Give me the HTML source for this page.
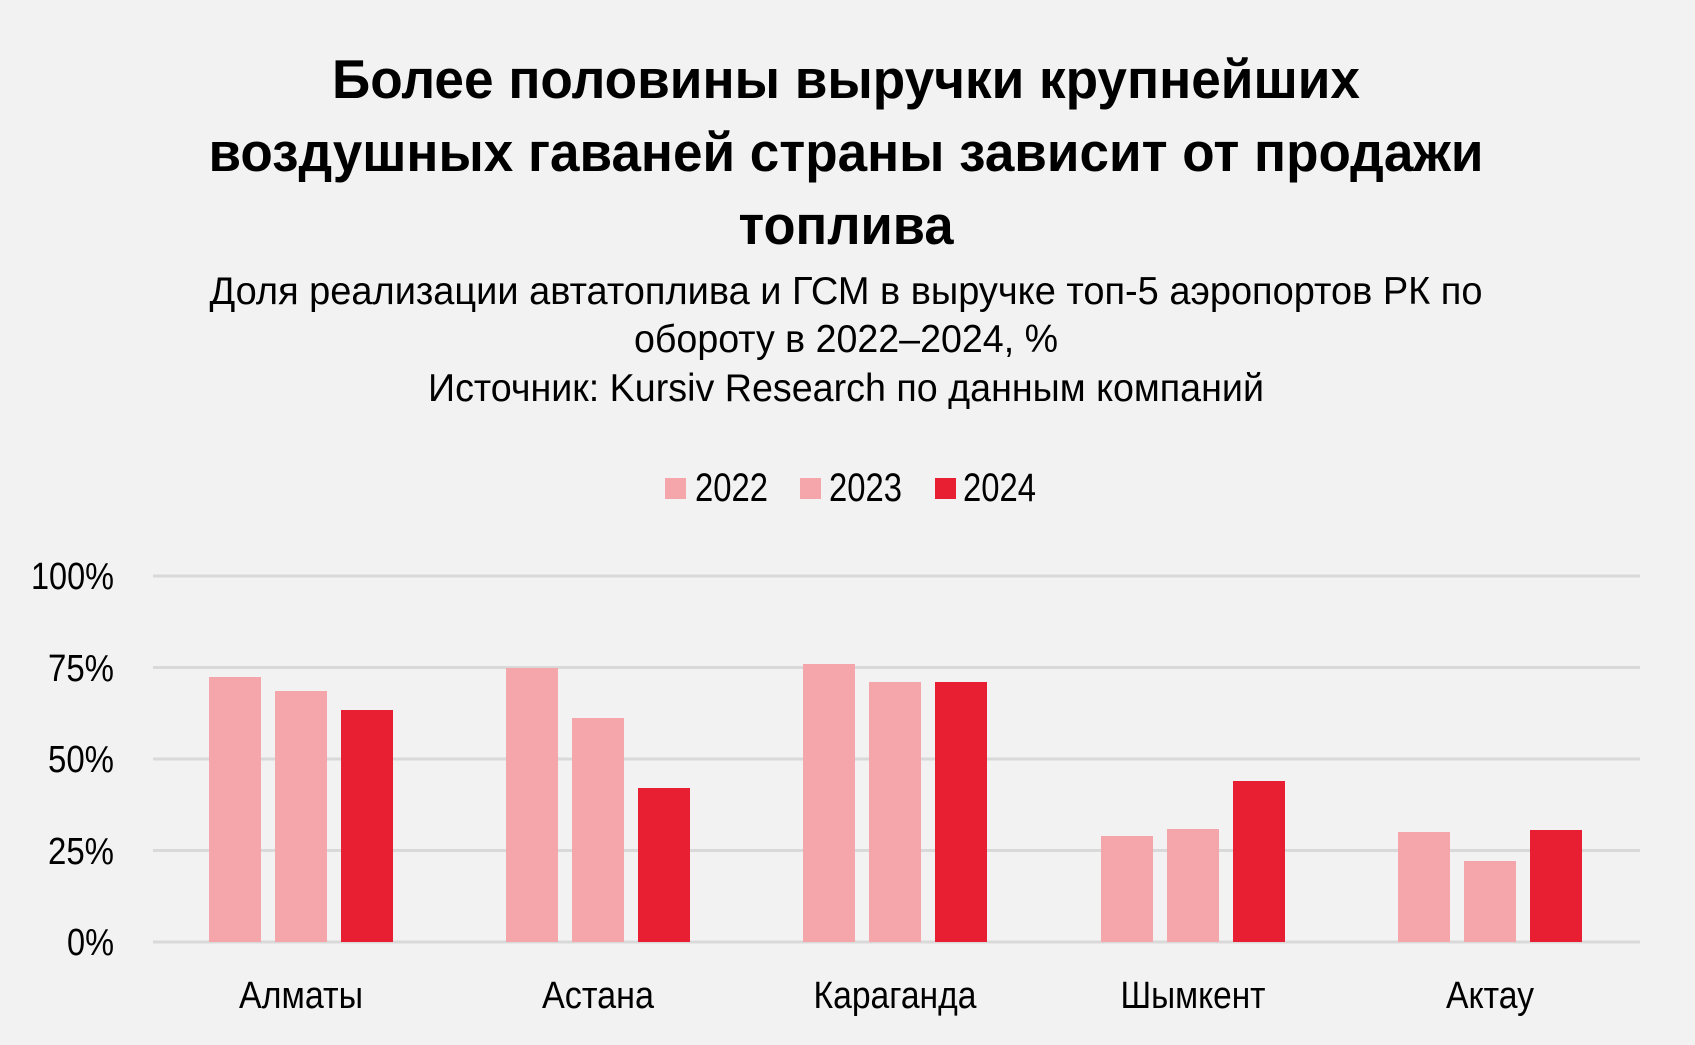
<!DOCTYPE html>
<html><head><meta charset="utf-8"><style>
html,body{margin:0;padding:0;background:#fff;}
svg{display:block;}
text{font-family:"Liberation Sans Narrow","Liberation Sans",sans-serif;fill:#000;}
</style></head><body>
<svg width="1695" height="1045" viewBox="0 0 1695 1045" xmlns="http://www.w3.org/2000/svg">
<rect x="0" y="0" width="1695" height="1045" fill="#f2f2f2"/>
<g font-weight="bold" font-size="55" text-anchor="middle">
<text x="846" y="98" textLength="1028" lengthAdjust="spacingAndGlyphs">Более половины выручки крупнейших</text>
<text x="846" y="171" textLength="1275" lengthAdjust="spacingAndGlyphs">воздушных гаваней страны зависит от продажи</text>
<text x="846" y="244" textLength="215" lengthAdjust="spacingAndGlyphs">топлива</text>
</g>
<g font-size="39" text-anchor="middle">
<text x="846" y="304" textLength="1273" lengthAdjust="spacingAndGlyphs">Доля реализации автатоплива и ГСМ в выручке топ-5 аэропортов РК по</text>
<text x="846" y="352" textLength="424" lengthAdjust="spacingAndGlyphs">обороту в 2022–2024, %</text>
<text x="846" y="401" textLength="836" lengthAdjust="spacingAndGlyphs">Источник: Kursiv Research по данным компаний</text>
</g>
<g font-size="40">
<rect x="665" y="478" width="21" height="21" fill="#f4a6ab"/><text x="695" y="501" textLength="73" lengthAdjust="spacingAndGlyphs">2022</text>
<rect x="800" y="478" width="21" height="21" fill="#f4a6ab"/><text x="829" y="501" textLength="73" lengthAdjust="spacingAndGlyphs">2023</text>
<rect x="935" y="478" width="21" height="21" fill="#e81e32"/><text x="963" y="501" textLength="73" lengthAdjust="spacingAndGlyphs">2024</text>
</g>
<g stroke="#d9d9d9" stroke-width="3">
<line x1="153" x2="1640" y1="576" y2="576"/>
<line x1="153" x2="1640" y1="667.5" y2="667.5"/>
<line x1="153" x2="1640" y1="759" y2="759"/>
<line x1="153" x2="1640" y1="850.5" y2="850.5"/>
<line x1="153" x2="1640" y1="942" y2="942"/>
</g>
<g font-size="38" text-anchor="end">
<text x="114" y="589" textLength="83" lengthAdjust="spacingAndGlyphs">100%</text>
<text x="114" y="681" textLength="66" lengthAdjust="spacingAndGlyphs">75%</text>
<text x="114" y="772" textLength="66" lengthAdjust="spacingAndGlyphs">50%</text>
<text x="114" y="864" textLength="66" lengthAdjust="spacingAndGlyphs">25%</text>
<text x="114" y="955" textLength="47" lengthAdjust="spacingAndGlyphs">0%</text>
</g>
<g>
<rect x="209" y="677" width="52" height="265" fill="#f4a6ab"/>
<rect x="275" y="691" width="52" height="251" fill="#f4a6ab"/>
<rect x="341" y="710" width="52" height="232" fill="#e81e32"/>

<rect x="506" y="668" width="52" height="274" fill="#f4a6ab"/>
<rect x="572" y="718" width="52" height="224" fill="#f4a6ab"/>
<rect x="638" y="788" width="52" height="154" fill="#e81e32"/>

<rect x="803" y="664" width="52" height="278" fill="#f4a6ab"/>
<rect x="869" y="682" width="52" height="260" fill="#f4a6ab"/>
<rect x="935" y="682" width="52" height="260" fill="#e81e32"/>

<rect x="1101" y="836" width="52" height="106" fill="#f4a6ab"/>
<rect x="1167" y="829" width="52" height="113" fill="#f4a6ab"/>
<rect x="1233" y="781" width="52" height="161" fill="#e81e32"/>

<rect x="1398" y="832" width="52" height="110" fill="#f4a6ab"/>
<rect x="1464" y="861" width="52" height="81" fill="#f4a6ab"/>
<rect x="1530" y="830" width="52" height="112" fill="#e81e32"/>
</g>
<g font-size="38" text-anchor="middle">
<text x="301" y="1008" textLength="124" lengthAdjust="spacingAndGlyphs">Алматы</text>
<text x="598" y="1008" textLength="112" lengthAdjust="spacingAndGlyphs">Астана</text>
<text x="895" y="1008" textLength="163" lengthAdjust="spacingAndGlyphs">Караганда</text>
<text x="1193" y="1008" textLength="145" lengthAdjust="spacingAndGlyphs">Шымкент</text>
<text x="1490" y="1008" textLength="88" lengthAdjust="spacingAndGlyphs">Актау</text>
</g>
</svg>
</body></html>
